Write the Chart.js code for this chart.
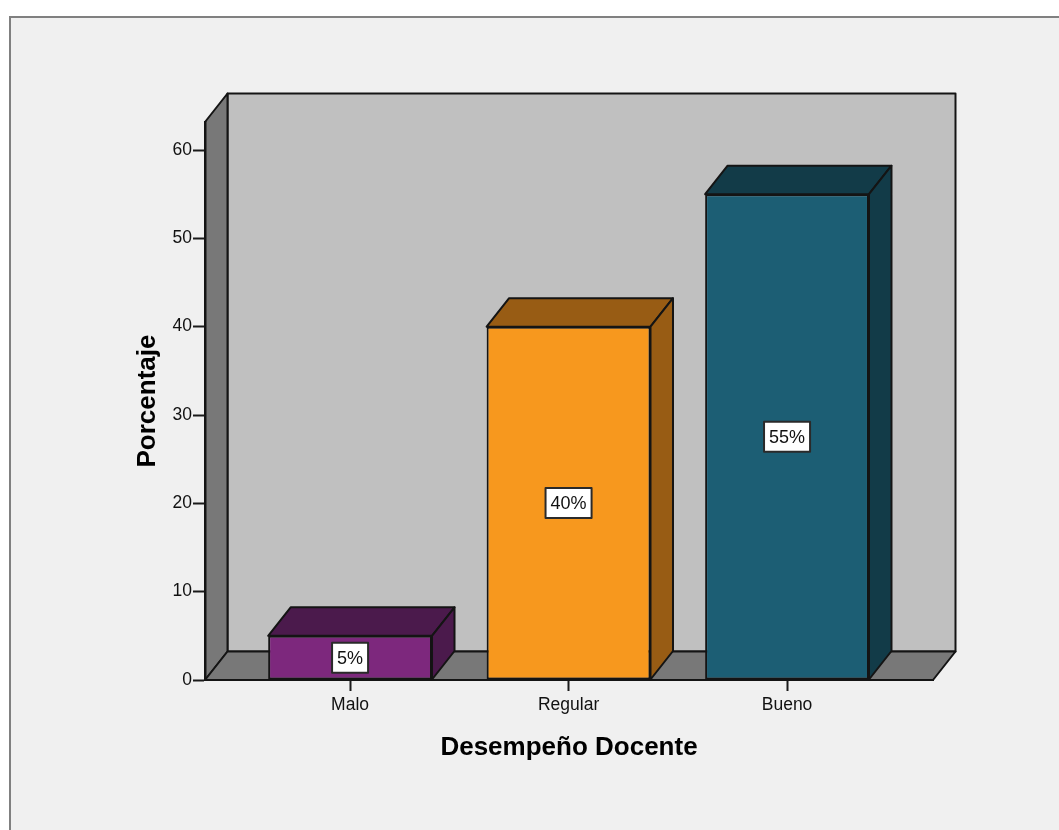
<!DOCTYPE html>
<html>
<head>
<meta charset="utf-8">
<script src="https://cdn.jsdelivr.net/npm/chart.js@4.4.1/dist/chart.umd.min.js"></script>
<style>
  html, body { margin: 0; padding: 0; background: #ffffff; }
  canvas { display: block; }
</style>
</head>
<body>
<canvas id="chart" width="1059" height="830"></canvas>
<script>
// Categories and their percentages
const categories = ['Malo', 'Regular', 'Bueno'];
const percentages = [5, 40, 55];
// Front face colours and darker colours for the top/side faces of each bar
const frontColors = ['#7d287d', '#f7981e', '#1c5e74'];
const shadeColors = ['#4b1a4c', '#985c14', '#123b48'];
// Value axis tick labels
const yTickValues = [0, 10, 20, 30, 40, 50, 60];
const xTitle = 'Desempeño Docente';
const yTitle = 'Porcentaje';

// Oblique depth of the 3D box and bars (pixels)
const DEPTH_X = 22.5;
const DEPTH_Y = 28.5;
const FONT = "'Liberation Sans', Arial, sans-serif";
const EDGE = '#141414';

function polygon(ctx, pts, fill) {
  ctx.beginPath();
  ctx.moveTo(pts[0][0], pts[0][1]);
  for (let i = 1; i < pts.length; i++) ctx.lineTo(pts[i][0], pts[i][1]);
  ctx.closePath();
  ctx.fillStyle = fill;
  ctx.fill();
  ctx.stroke();
}

// Frame, back wall, side wall and floor drawn behind the axes and bars
const boxPlugin = {
  id: 'box3d',
  beforeDraw(chart) {
    const { ctx, chartArea: a, width, height } = chart;
    ctx.save();
    ctx.fillStyle = '#ffffff';
    ctx.fillRect(0, 0, width, height);
    ctx.fillStyle = '#f0f0f0';
    ctx.fillRect(10, 17, width, height);
    ctx.strokeStyle = '#808080';
    ctx.lineWidth = 2;
    ctx.beginPath();
    ctx.moveTo(10, height + 5);
    ctx.lineTo(10, 17);
    ctx.lineTo(width + 5, 17);
    ctx.stroke();

    ctx.strokeStyle = EDGE;
    ctx.lineWidth = 2;
    ctx.lineJoin = 'round';
    const L = a.left, R = a.right, T = a.top, B = a.bottom;
    // back wall
    polygon(ctx, [[L + DEPTH_X, T - DEPTH_Y], [R + DEPTH_X, T - DEPTH_Y], [R + DEPTH_X, B - DEPTH_Y], [L + DEPTH_X, B - DEPTH_Y]], '#c0c0c0');
    // left wall
    polygon(ctx, [[L, B], [L, T], [L + DEPTH_X, T - DEPTH_Y], [L + DEPTH_X, B - DEPTH_Y]], '#787878');
    // floor
    polygon(ctx, [[L, B], [R, B], [R + DEPTH_X, B - DEPTH_Y], [L + DEPTH_X, B - DEPTH_Y]], '#787878');
    ctx.restore();
  },
  afterDatasetsDraw(chart) {
    const { ctx } = chart;
    const meta = chart.getDatasetMeta(0);
    ctx.save();
    ctx.strokeStyle = EDGE;
    ctx.lineWidth = 2;
    ctx.lineJoin = 'round';
    meta.data.forEach((bar, i) => {
      const { x, y, base, width } = bar.getProps(['x', 'y', 'base', 'width'], true);
      const l = x - width / 2, r = x + width / 2;
      // top face
      polygon(ctx, [[l, y], [r, y], [r + DEPTH_X, y - DEPTH_Y], [l + DEPTH_X, y - DEPTH_Y]], shadeColors[i]);
      // right side face
      polygon(ctx, [[r, y], [r, base], [r + DEPTH_X, base - DEPTH_Y], [r + DEPTH_X, y - DEPTH_Y]], shadeColors[i]);
    });
    // value labels in white boxes at the middle of each bar
    ctx.font = '18px ' + FONT;
    ctx.textAlign = 'center';
    ctx.textBaseline = 'middle';
    meta.data.forEach((bar, i) => {
      const { x, y, base } = bar.getProps(['x', 'y', 'base'], true);
      const text = percentages[i] + '%';
      const cy = (y + base) / 2;
      const w = ctx.measureText(text).width + 10;
      const h = 30;
      ctx.fillStyle = '#ffffff';
      ctx.strokeStyle = '#2a2a2a';
      ctx.lineWidth = 2;
      ctx.fillRect(x - w / 2, cy - h / 2, w, h);
      ctx.strokeRect(x - w / 2, cy - h / 2, w, h);
      ctx.fillStyle = '#111111';
      ctx.fillText(text, x, cy + 1);
    });
    ctx.restore();
  }
};

new Chart(document.getElementById('chart'), {
  type: 'bar',
  data: {
    datasets: [{
      data: categories.map((c, i) => ({ x: i + 1, y: percentages[i] })),
      backgroundColor: frontColors,
      borderColor: EDGE,
      borderWidth: 2,
      borderSkipped: false,
      barPercentage: 0.75,
      categoryPercentage: 1
    }]
  },
  options: {
    responsive: false,
    devicePixelRatio: 1,
    animation: false,
    layout: { padding: { left: 0, top: 122, right: 126, bottom: 0 } },
    plugins: { legend: { display: false }, tooltip: { enabled: false } },
    scales: {
      x: {
        type: 'linear',
        offset: false,
        min: 0.336,
        max: 3.668,
        afterBuildTicks: (s) => { s.ticks = categories.map((c, i) => ({ value: i + 1 })); },
        afterFit: (s) => { s.height = 150; },
        ticks: {
          callback: (v) => categories[Math.round(v) - 1],
          font: { family: FONT, size: 17.5 },
          color: '#111111',
          padding: 4,
          maxRotation: 0,
          autoSkip: false
        },
        grid: { offset: false, drawOnChartArea: false, drawTicks: true, tickLength: 11, tickColor: '#1a1a1a', tickWidth: 2 },
        border: { display: true, color: EDGE, width: 2 },
        title: {
          display: true,
          text: xTitle,
          font: { family: FONT, size: 26, weight: 'bold' },
          color: '#000000',
          padding: { top: 0, bottom: 67 }
        }
      },
      y: {
        min: 0,
        max: 63.17,
        afterBuildTicks: (s) => { s.ticks = yTickValues.map(v => ({ value: v })); },
        afterFit: (s) => { s.width = 205; },
        ticks: {
          font: { family: FONT, size: 17.5 },
          color: '#111111',
          padding: 1
        },
        grid: { drawOnChartArea: false, drawTicks: true, tickLength: 12, tickColor: '#1a1a1a', tickWidth: 2 },
        border: { display: true, color: EDGE, width: 2.5 },
        title: {
          display: true,
          text: yTitle,
          font: { family: FONT, size: 26, weight: 'bold' },
          color: '#000000',
          padding: { top: 132, bottom: 0 }
        }
      }
    }
  },
  plugins: [boxPlugin]
});
</script>
</body>
</html>
